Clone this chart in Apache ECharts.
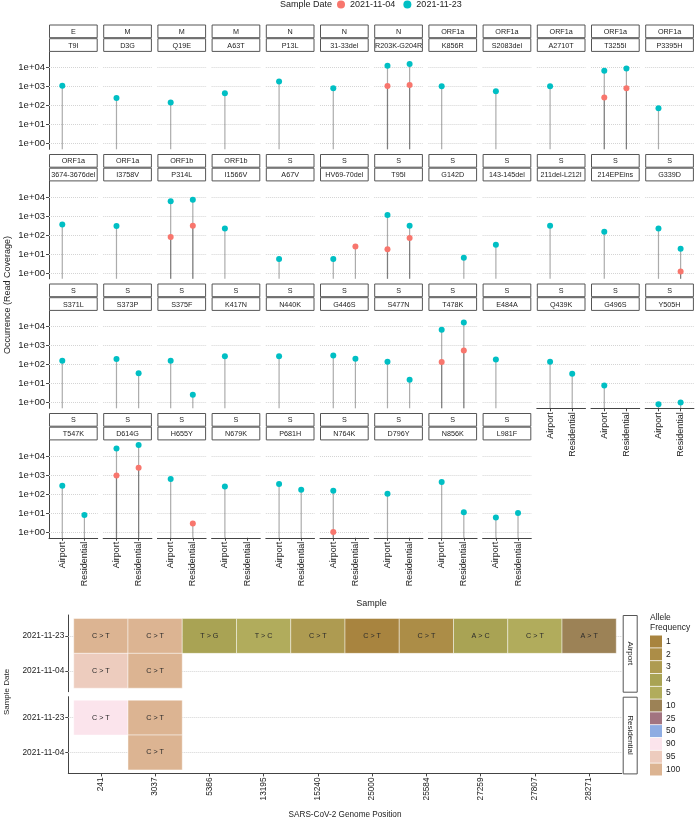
<!DOCTYPE html>
<html>
<head>
<meta charset="utf-8">
<script src="https://cdn.jsdelivr.net/npm/echarts@6/dist/echarts.min.js"></script>
<style>
  html, body { margin: 0; padding: 0; background: #fff; }
  #chart { width: 696px; height: 824px; }
</style>
</head>
<body>
<div id="chart"></div>
<script>
// facet strips (gene / mutation)
const genes = [
  'E', 'M', 'M', 'M', 'N', 'N', 'N', 'ORF1a', 'ORF1a', 'ORF1a', 'ORF1a', 'ORF1a',
  'ORF1a', 'ORF1a', 'ORF1b', 'ORF1b', 'S', 'S', 'S', 'S', 'S', 'S', 'S', 'S',
  'S', 'S', 'S', 'S', 'S', 'S', 'S', 'S', 'S', 'S', 'S', 'S',
  'S', 'S', 'S', 'S', 'S', 'S', 'S', 'S', 'S'
]
const mutations = [
  'T9I', 'D3G', 'Q19E', 'A63T', 'P13L', '31-33del', 'R203K-G204R', 'K856R', 'S2083del', 'A2710T', 'T3255I', 'P3395H',
  '3674-3676del', 'I3758V', 'P314L', 'I1566V', 'A67V', 'HV69-70del', 'T95I', 'G142D', '143-145del', '211del-L212I', '214EPEins', 'G339D',
  'S371L', 'S373P', 'S375F', 'K417N', 'N440K', 'G446S', 'S477N', 'T478K', 'E484A', 'Q439K', 'G496S', 'Y505H',
  'T547K', 'D614G', 'H655Y', 'N679K', 'P681H', 'N764K', 'D796Y', 'N856K', 'L981F'
]
const sites = ['Airport', 'Residential']
const sampleDates = ['2021-11-04', '2021-11-23']

// read coverage per facet (null = not found)
const airport1123 = [
  1100, 250, 145, 440, 1850, 800, 12300, 1020, 560, 1020, 6700, 72,
  355, 295, 5900, 224, 5.5, 5.5, 1120, null, 31, 310, 150, 224,
  158, 195, 158, 270, 270, 300, 141, 6800, 182, 141, 7.9, 0.83,
  275, 25000, 620, 250, 340, 148, 105, 430, 5.9
]
const airport1104 = [
  null, null, null, null, null, null, 1070, null, null, null, 263, null,
  null, null, 78, null, null, null, 18, null, null, null, null, null,
  null, null, null, null, null, null, null, 138, null, null, null, null,
  null, 950, null, null, null, 1.0, null, null, null
]
const residential1123 = [
  null, null, null, null, null, null, 15500, null, null, null, 8900, null,
  null, null, 7200, null, null, null, 310, 6.5, null, null, null, 19,
  null, 35, 2.6, null, null, 204, 16, 16000, null, 33, null, 1.0,
  7.8, 38000, null, null, 170, null, null, 11, 10
]
const residential1104 = [
  null, null, null, null, null, null, 1200, null, null, null, 800, null,
  null, null, 310, null, null, 25, 69, null, null, null, null, 1.2,
  null, null, null, null, null, null, null, 540, null, null, null, null,
  null, 2400, 2.8, null, null, null, null, null, null
]
const logTicks = [0, 1, 2, 3, 4]

// heatmap of mutations
const positions = ['241', '3037', '5386', '13195', '15240', '25000', '25584', '27259', '27807', '28271']
const substitutions = ['C > T', 'C > T', 'T > G', 'T > C', 'C > T', 'C > T', 'C > T', 'A > C', 'C > T', 'A > T']
const airportFreq1123 = [100, 100, 4, 5, 3, 1, 2, 4, 5, 10]
const airportFreq1104 = [95, 100, null, null, null, null, null, null, null, null]
const residentialFreq1123 = [90, 100, null, null, null, null, null, null, null, null]
const residentialFreq1104 = [null, 100, null, null, null, null, null, null, null, null]
const freqLevels = [1, 2, 3, 4, 5, 10, 25, 50, 90, 95, 100]
const freqColors = ['#A8843F', '#AC8D47', '#AE9B51', '#A9A354', '#B1AC5C', '#9C8256',
  '#A27480', '#8EACE2', '#FBE4EC', '#EDCCBE', '#DCB492']

const red = '#F8766D'
const teal = '#00BFC4'
const axisColor = '#444'
const yMin = -0.3
const yMax = 4.82

// panel layout
const nCol = 12
const colX0 = 49
const colStep = 54.2
const panelW = 48.7
const rowY0 = 24.5
const rowStep = 129.5
const stripH = 13.7
const panelH = 97.4

const grids = []
const xAxes = []
const yAxes = []
const series = []
const graphics = []
const lg = v => (v == null ? null : Math.log10(v))
const gridLines = vals => ({
  silent: true,
  z: 1,
  symbol: ['none', 'none'],
  label: { show: false },
  animation: false,
  lineStyle: { type: 'dotted', color: '#d4d4d4', width: 1 },
  data: vals.map(v => ({ yAxis: v }))
})

function stemItem (params, api) {
  const top = api.coord([api.value(0), api.value(1)])
  const bottom = api.coord([api.value(0), yMin])
  return {
    type: 'line',
    shape: { x1: top[0], y1: bottom[1], x2: top[0], y2: top[1] },
    style: { stroke: 'rgba(70,70,70,0.45)', lineWidth: 1.2 }
  }
}

genes.forEach((g, i) => {
  const r = Math.floor(i / nCol)
  const c = i % nCol
  const left = colX0 + c * colStep
  const top = rowY0 + r * rowStep
  const bottom = i + nCol >= genes.length
  grids.push({ left: left, top: top + 2 * stripH, width: panelW, height: panelH, outerBoundsMode: 'none' })
  xAxes.push({
    gridIndex: i,
    type: 'value',
    min: 0.4,
    max: 2.6,
    axisLine: { show: bottom, onZero: false, lineStyle: { color: axisColor } },
    axisTick: { show: bottom, customValues: [1, 2], length: 3, lineStyle: { color: axisColor } },
    axisLabel: {
      show: bottom, customValues: [1, 2], rotate: 90, margin: 4,
      fontSize: 9, color: '#222', formatter: v => sites[Math.round(v) - 1]
    },
    splitLine: { show: false }
  })
  yAxes.push({
    gridIndex: i,
    type: 'value',
    min: yMin,
    max: yMax,
    axisLine: { show: c === 0, onZero: false, lineStyle: { color: axisColor } },
    axisTick: { show: c === 0, customValues: logTicks, length: 3, lineStyle: { color: axisColor } },
    axisLabel: {
      show: c === 0, customValues: logTicks, margin: 4,
      fontSize: 9.5, color: '#222', formatter: v => '1e+0' + Math.round(v)
    },
    splitLine: { show: false }
  })

  const stems = []
  const pts23 = []
  const pts04 = []
  ;[airport1123[i], residential1123[i]].forEach((v, k) => {
    if (v != null) { stems.push([k + 1, lg(v)]); pts23.push([k + 1, lg(v)]) }
  })
  ;[airport1104[i], residential1104[i]].forEach((v, k) => {
    if (v != null) { stems.push([k + 1, lg(v)]); pts04.push([k + 1, lg(v)]) }
  })
  series.push({
    type: 'custom', xAxisIndex: i, yAxisIndex: i, data: stems, renderItem: stemItem,
    z: 2, markLine: gridLines(logTicks)
  })
  series.push({
    name: '2021-11-23', type: 'scatter', xAxisIndex: i, yAxisIndex: i, data: pts23,
    symbolSize: 6, itemStyle: { color: teal, opacity: 1 }, z: 4
  })
  series.push({
    name: '2021-11-04', type: 'scatter', xAxisIndex: i, yAxisIndex: i, data: pts04,
    symbolSize: 6, itemStyle: { color: red, opacity: 1 }, z: 4
  })

  // strips
  ;[g, mutations[i]].forEach((txt, k) => {
    graphics.push({
      type: 'rect',
      shape: { x: left + 0.5, y: top + k * stripH + 0.5, width: panelW - 1, height: stripH - 1 },
      style: { fill: '#fff', stroke: '#555', lineWidth: 1 }
    })
    graphics.push({
      type: 'text',
      style: {
        text: txt, x: left + panelW / 2, y: top + k * stripH + stripH / 2 + 0.5,
        align: 'center', verticalAlign: 'middle', fontSize: 7.2, fill: '#222',
        fontFamily: 'Liberation Sans'
      }
    })
  })
})

// heatmap panels
const hmLeft = 68.3
const hmWidth = 553.4
const hmHeight = 76.7
const hmPanels = [
  { name: 'Airport', top: 615, f04: airportFreq1104, f23: airportFreq1123 },
  { name: 'Residential', top: 696.7, f04: residentialFreq1104, f23: residentialFreq1123 }
]
const posTicks = positions.map((p, j) => j + 1)
const hmSeries = []

function tileItem (params, api) {
  const x = api.value(0)
  const y = api.value(1)
  const p0 = api.coord([x - 0.5, y + 0.5])
  const p1 = api.coord([x + 0.5, y - 0.5])
  return {
    type: 'group',
    children: [{
      type: 'rect',
      shape: { x: p0[0], y: p0[1], width: p1[0] - p0[0], height: p1[1] - p0[1] },
      style: { fill: api.visual('color'), stroke: 'rgba(255,255,255,0.45)', lineWidth: 1 }
    }, {
      type: 'text',
      style: {
        text: substitutions[x - 1], x: (p0[0] + p1[0]) / 2, y: (p0[1] + p1[1]) / 2,
        align: 'center', verticalAlign: 'middle', fontSize: 7.2, fill: '#2a2a2a',
        fontFamily: 'Liberation Sans'
      }
    }]
  }
}

hmPanels.forEach((p, k) => {
  const gi = genes.length + k
  const last = k === hmPanels.length - 1
  grids.push({ left: hmLeft, top: p.top, width: hmWidth, height: hmHeight, outerBoundsMode: 'none' })
  xAxes.push({
    gridIndex: gi,
    type: 'value',
    min: 0.4,
    max: positions.length + 0.6,
    axisLine: { show: last, onZero: false, lineStyle: { color: axisColor } },
    axisTick: { show: last, customValues: posTicks, length: 3, lineStyle: { color: axisColor } },
    axisLabel: {
      show: last, customValues: posTicks, rotate: 90, margin: 4,
      fontSize: 8.3, color: '#222', formatter: v => positions[Math.round(v) - 1]
    },
    splitLine: { show: false }
  })
  yAxes.push({
    gridIndex: gi,
    type: 'value',
    min: 0.4,
    max: 2.6,
    axisLine: { show: true, onZero: false, lineStyle: { color: axisColor } },
    axisTick: { show: true, customValues: [1, 2], length: 3, lineStyle: { color: axisColor } },
    axisLabel: {
      show: true, customValues: [1, 2], margin: 4,
      fontSize: 8.3, color: '#222', formatter: v => sampleDates[Math.round(v) - 1]
    },
    splitLine: { show: false }
  })
  const tiles = []
  p.f23.forEach((f, j) => { if (f != null) tiles.push([j + 1, 2, f]) })
  p.f04.forEach((f, j) => { if (f != null) tiles.push([j + 1, 1, f]) })
  hmSeries.push(series.length)
  series.push({
    type: 'custom', xAxisIndex: gi, yAxisIndex: gi, data: tiles, renderItem: tileItem,
    z: 3, markLine: gridLines([1, 2])
  })
  // right strip
  graphics.push({
    type: 'rect',
    shape: { x: hmLeft + hmWidth + 1.5, y: p.top + 0.5, width: 14, height: hmHeight },
    style: { fill: '#fff', stroke: '#555', lineWidth: 1 }
  })
  graphics.push({
    type: 'text',
    x: hmLeft + hmWidth + 8.5,
    y: p.top + hmHeight / 2,
    rotation: -Math.PI / 2,
    style: {
      text: p.name, x: 0, y: 0, align: 'center', verticalAlign: 'middle',
      fontSize: 8, fill: '#222', fontFamily: 'Liberation Sans'
    }
  })
})

// titles
const titleStyle = { fontSize: 9, fill: '#222', fontFamily: 'Liberation Sans', align: 'center', verticalAlign: 'middle' }
graphics.push({ type: 'text', style: Object.assign({ text: 'Sample', x: 371.5, y: 604 }, titleStyle) })
graphics.push({ type: 'text', style: Object.assign({ text: 'SARS-CoV-2 Genome Position', x: 345, y: 815 }, titleStyle, { fontSize: 8.2 }) })
graphics.push({ type: 'text', x: 8, y: 295, rotation: Math.PI / 2, style: Object.assign({ text: 'Occurrence (Read Coverage)', x: 0, y: 0 }, titleStyle) })
graphics.push({ type: 'text', x: 7, y: 692, rotation: Math.PI / 2, style: Object.assign({ text: 'Sample Date', x: 0, y: 0 }, titleStyle, { fontSize: 8 }) })
graphics.push({ type: 'text', style: Object.assign({ text: 'Sample Date', x: 306, y: 5 }, titleStyle) })
graphics.push({ type: 'text', style: { text: 'Allele\nFrequency', x: 650, y: 613, fontSize: 8.5, lineHeight: 10, fill: '#222', fontFamily: 'Liberation Sans' } })

const chart = echarts.init(document.getElementById('chart'))
chart.setOption({
  animation: false,
  textStyle: { fontFamily: 'Liberation Sans' },
  legend: {
    data: ['2021-11-04', '2021-11-23'],
    left: 337,
    top: 0,
    padding: 0,
    icon: 'circle',
    itemWidth: 8,
    itemHeight: 8,
    itemGap: 8,
    textStyle: { fontSize: 9, color: '#222' }
  },
  visualMap: {
    type: 'piecewise',
    seriesIndex: hmSeries,
    dimension: 2,
    pieces: freqLevels.map((v, k) => ({ value: v, label: String(v), color: freqColors[k] })),
    inverse: true,
    orient: 'vertical',
    align: 'left',
    left: 650,
    top: 635.5,
    padding: 0,
    itemWidth: 12,
    itemHeight: 12,
    itemGap: 0.8,
    itemSymbol: 'rect',
    textGap: 4,
    selectedMode: false,
    textStyle: { fontSize: 8.5, color: '#222' }
  },
  grid: grids,
  xAxis: xAxes,
  yAxis: yAxes,
  series: series,
  graphic: { elements: graphics }
})
</script>
</body>
</html>
